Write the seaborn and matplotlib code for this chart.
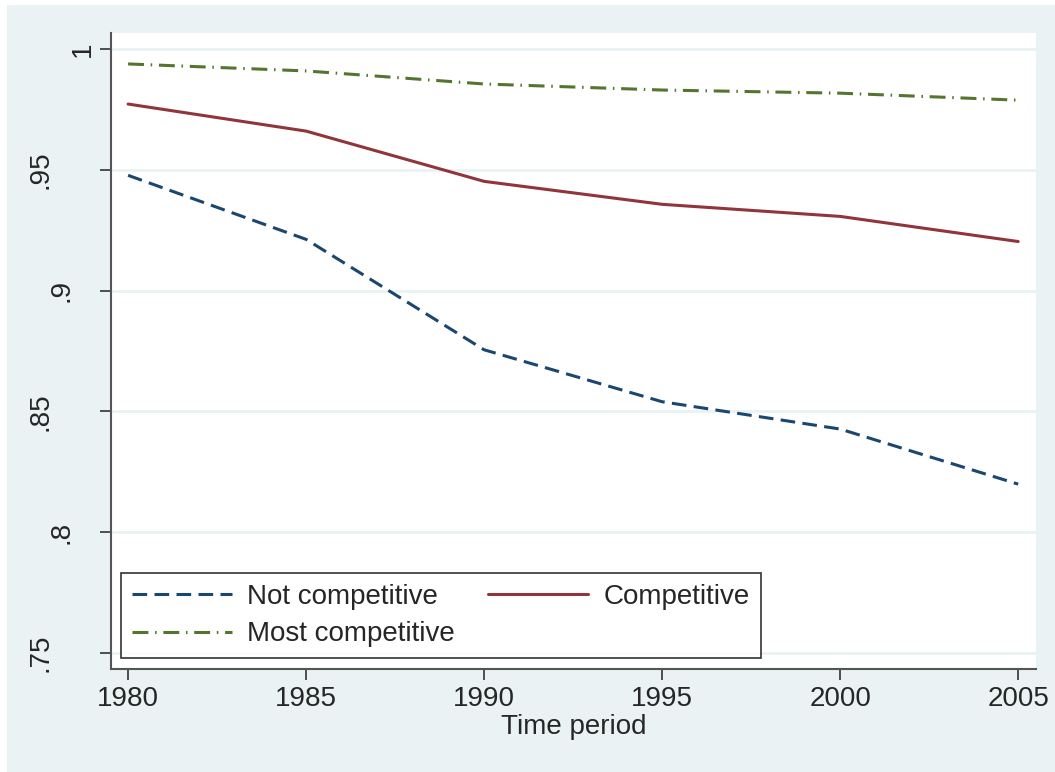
import matplotlib
matplotlib.use("Agg")
import matplotlib.pyplot as plt
import seaborn as sns
import pandas as pd
from matplotlib.patches import Rectangle
from matplotlib.transforms import ScaledTranslation

# Share of values by competitiveness group over time
years = [1980, 1985, 1990, 1995, 2000, 2005]
not_competitive = [0.9477, 0.9212, 0.8755, 0.8540, 0.8427, 0.8199]
competitive = [0.9772, 0.9660, 0.9452, 0.9357, 0.9307, 0.9203]
most_competitive = [0.9938, 0.9909, 0.9855, 0.9830, 0.9817, 0.9788]

series_names = ["Not competitive", "Competitive", "Most competitive"]
y_ticks = [0.75, 0.8, 0.85, 0.9, 0.95, 1.0]
y_tick_labels = [".75", ".8", ".85", ".9", ".95", "1"]
x_ticks = [1980, 1985, 1990, 1995, 2000, 2005]

df = pd.DataFrame({
    "year": years * 3,
    "value": not_competitive + competitive + most_competitive,
    "group": [series_names[0]] * 6 + [series_names[1]] * 6 + [series_names[2]] * 6,
})

sns.set_theme(style="white")
plt.rcParams["font.family"] = ["Liberation Sans", "DejaVu Sans"]
FS = 20

W, H = 1055, 772
DPI = 100
fig = plt.figure(figsize=(W / DPI, H / DPI), dpi=DPI)
fig.patch.set_facecolor("white")
bg = "#EAF2F3"
fig.patches.append(Rectangle((7 / W, 0), 1 - 7 / W, 1 - 5 / H, transform=fig.transFigure,
                             facecolor=bg, edgecolor="none", zorder=-10))

left, right, top, bottom = 111, 1036, 33, 669
ax = fig.add_axes([left / W, 1 - bottom / H, (right - left) / W, (bottom - top) / H])
ax.set_facecolor("white")

palette = {series_names[0]: "#1a476f", series_names[1]: "#90353b", series_names[2]: "#55752f"}
dashes = {series_names[0]: (4.8, 2.4), series_names[1]: "", series_names[2]: (5.2, 2.2, 0.5, 2.2)}
sns.lineplot(data=df, x="year", y="value", hue="group", style="group",
             palette=palette, dashes=dashes, hue_order=series_names,
             style_order=series_names, linewidth=2.2, ax=ax, zorder=3)

ax.set_xlim(1979.52, 2005.5)
ax.set_ylim(0.7434, 1.0066)
ax.set_yticks(y_ticks)
ax.set_xticks(x_ticks)
ax.set_xticklabels([str(x) for x in x_ticks])
for yv in y_ticks:
    ax.axhline(yv, color=bg, linewidth=2.0, zorder=1)

ax.tick_params(axis="both", which="major", labelsize=FS, length=8, width=1.2,
               color="#333333", direction="out", bottom=True, left=True, pad=4)
ax.tick_params(axis="y", labelleft=False)

# vertical y labels, stepped left by their character count
for val, lab in zip(y_ticks, y_tick_labels):
    shift_px = 15 + 21.5 * (len(lab) - 1)
    tr = ax.get_yaxis_transform() + ScaledTranslation(-shift_px / DPI, 0, fig.dpi_scale_trans)
    ax.text(0, val, lab, rotation=90, ha="right", va="center", fontsize=FS,
            transform=tr, clip_on=False)

for side in ["top", "right"]:
    ax.spines[side].set_visible(False)
for side in ["left", "bottom"]:
    ax.spines[side].set_color("#555555")
    ax.spines[side].set_linewidth(1.5)

ax.set_xlabel("Time period", fontsize=FS, labelpad=2)
ax.set_ylabel("")

# legend filled column-wise, so order entries to read row-wise
handles, labels = ax.get_legend_handles_labels()
lookup = dict(zip(labels, handles))
order = [series_names[0], series_names[2], series_names[1]]
leg = ax.legend([lookup[k] for k in order], order, ncol=2, loc="upper left",
                bbox_to_anchor=(121 / W, 1 - 573 / H), bbox_transform=fig.transFigure,
                fontsize=FS, frameon=True, fancybox=False,
                edgecolor="black", handlelength=3.6, handletextpad=0.54,
                borderaxespad=0, columnspacing=1.2, labelspacing=0.4, borderpad=0.4)
leg.get_frame().set_linewidth(1.2)
leg.set_zorder(5)

fig.savefig("out.png", dpi=DPI)
